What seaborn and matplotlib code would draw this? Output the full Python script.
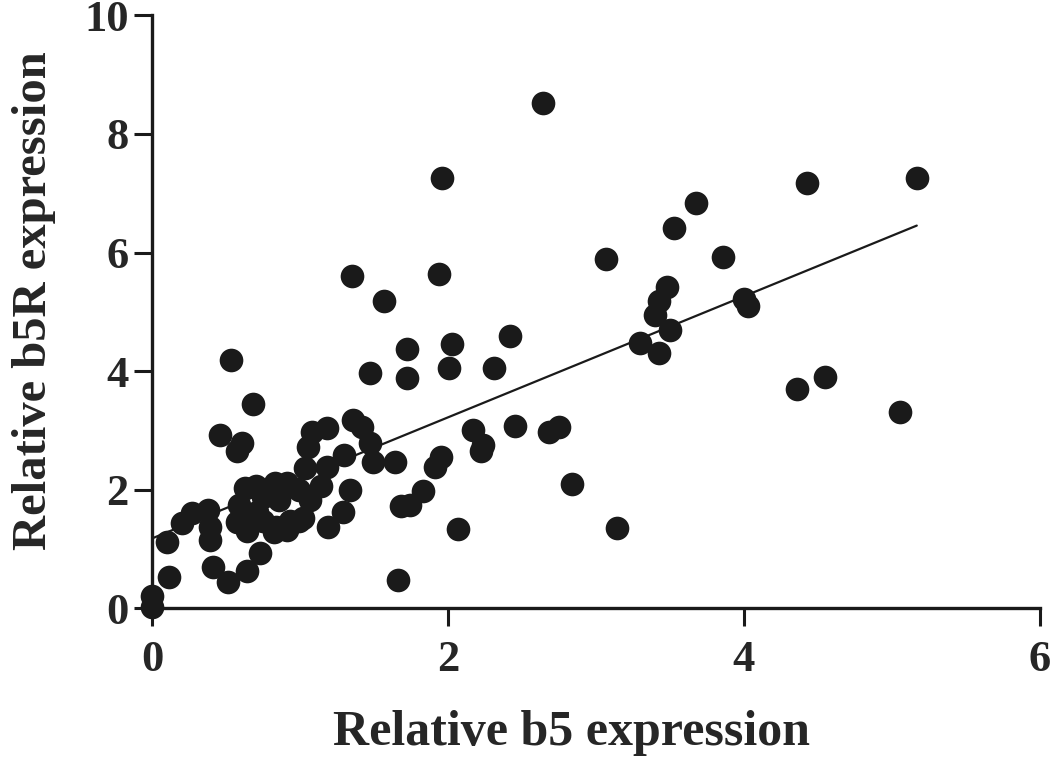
import numpy as np
import pandas as pd
import seaborn as sns
import matplotlib.pyplot as plt

b5 = [2.64, 1.96, 4.43, 5.17, 3.68, 3.53, 3.86, 3.07, 1.35, 1.94,
      1.57, 3.48, 3.43, 3.40, 4.00, 4.03, 3.50, 3.30, 3.43, 2.42,
      2.03, 1.72, 1.72, 1.47, 2.01, 2.31, 0.53, 4.36, 4.55, 5.06,
      0.68, 0.46, 0.61, 0.57, 1.36, 1.42, 1.08, 1.18, 1.05, 1.30,
      1.47, 1.49, 1.64, 2.17, 2.24, 2.22, 2.45, 2.68, 2.75, 1.95,
      1.91, 2.84, 1.83, 1.74, 1.68, 2.07, 3.14, 1.66, 1.03, 1.18,
      1.34, 1.29, 1.19, 0.91, 0.99, 0.91, 0.63, 0.70, 0.83, 0.99,
      1.07, 1.02, 0.82, 0.73, 0.41, 0.51, 0.64, 0.11, 0.10, 0.27,
      0.20, 0.38, 0.39, 0.39, 0.71, 0.75, 0.84, 0.93, 0.57, 0.64,
      0.00, 0.00, 0.75, 0.86, 1.14, 0.59]
b5r = [8.52, 7.25, 7.17, 7.25, 6.83, 6.41, 5.92, 5.89, 5.60, 5.63,
       5.18, 5.41, 5.18, 4.94, 5.21, 5.09, 4.69, 4.47, 4.30, 4.60,
       4.45, 4.37, 3.88, 3.96, 4.05, 4.06, 4.18, 3.69, 3.90, 3.31,
       3.44, 2.93, 2.78, 2.66, 3.17, 3.05, 2.97, 3.04, 2.72, 2.58,
       2.78, 2.46, 2.46, 3.00, 2.75, 2.66, 3.07, 2.98, 3.05, 2.55,
       2.38, 2.09, 1.97, 1.74, 1.72, 1.33, 1.35, 0.47, 2.36, 2.38,
       1.99, 1.62, 1.37, 1.32, 1.48, 2.11, 2.02, 2.07, 2.12, 1.99,
       1.82, 1.53, 1.28, 0.94, 0.69, 0.44, 0.62, 0.52, 1.11, 1.60,
       1.43, 1.65, 1.15, 1.37, 1.62, 1.48, 1.37, 1.48, 1.45, 1.30,
       0.20, 0.02, 1.87, 1.82, 2.07, 1.74]

xticks = [0, 2, 4, 6]
yticks = [0, 2, 4, 6, 8, 10]

df = pd.DataFrame(dict(b5=b5, b5r=b5r))

sns.set_style("ticks")
plt.rcParams['font.family'] = ['Liberation Serif', 'DejaVu Serif']
plt.rcParams['font.weight'] = 'bold'

fig = plt.figure(figsize=(10.5, 7.68), dpi=100)
ax = fig.add_axes([0.145, 0.208, 0.845, 0.772])

sns.regplot(data=df, x="b5", y="b5r", ax=ax, ci=None, truncate=True,
            scatter_kws=dict(s=290, color="#1a1a1a", alpha=1, linewidths=0, clip_on=False, zorder=3),
            line_kws=dict(color="#1a1a1a", linewidth=1.6, zorder=2))

ax.set_xlim(0, 6)
ax.set_ylim(0, 10)
ax.set_xticks(xticks)
ax.set_yticks(yticks)
ax.set_xticklabels([str(t) for t in xticks], fontsize=32, fontweight='bold')
ax.set_yticklabels([str(t) for t in yticks], fontsize=32, fontweight='bold')
ax.tick_params(axis='both', width=2.2, length=13, color="#1a1a1a")
ax.tick_params(axis='x', pad=10)
ax.tick_params(axis='y', pad=4)
sns.despine(ax=ax)
for side in ["left", "bottom"]:
    ax.spines[side].set_linewidth(2.4)
    ax.spines[side].set_color("#1a1a1a")

ax.set_xlabel("Relative b5 expression", fontsize=36, fontweight='bold')
ax.set_ylabel("Relative b5R expression", fontsize=35, fontweight='bold')
ax.xaxis.set_label_coords(0.472, -0.172)
ax.yaxis.set_label_coords(-0.108, 0.519)

plt.savefig("out.png", dpi=100)
